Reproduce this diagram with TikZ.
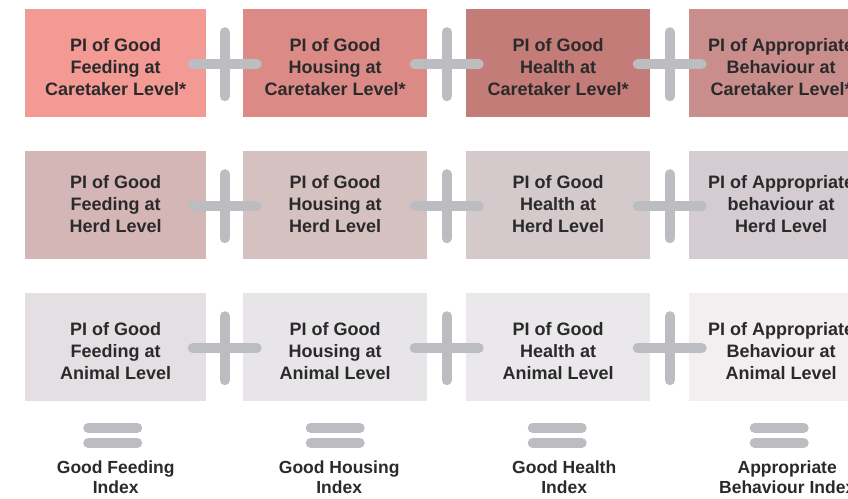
\documentclass[tikz,border=0pt]{standalone}
\usepackage{fontspec}
\setmainfont{Liberation Sans}
\usetikzlibrary{calc}

\definecolor{ink}{HTML}{2B2A2B}
\definecolor{opgray}{HTML}{BCBDC1}
% caretaker level
\definecolor{ca}{HTML}{F39A94}
\definecolor{cb}{HTML}{DC8A86}
\definecolor{cc}{HTML}{C47C78}
\definecolor{cd}{HTML}{C98E8C}
% herd level
\definecolor{ha}{HTML}{D4B6B6}
\definecolor{hb}{HTML}{D5C1BF}
\definecolor{hc}{HTML}{D4C9CB}
\definecolor{hd}{HTML}{D5CCD2}
% animal level
\definecolor{aa}{HTML}{E3DFE2}
\definecolor{ab}{HTML}{E8E5E9}
\definecolor{ac}{HTML}{EBE8EB}
\definecolor{ad}{HTML}{F3EFF0}

\begin{document}
\begin{tikzpicture}[x=1pt,y=-1pt,
  cell/.style={fill=#1, anchor=north west, minimum width=184pt,
    minimum height=108pt, inner sep=0pt},
  first/.style={minimum width=181pt},
  txt/.style={align=center, text=ink, inner sep=0pt,
    font=\bfseries\fontsize{18}{22}\selectfont},
  idx/.style={anchor=north, align=center, text=ink, inner sep=0pt,
    font=\bfseries\fontsize{17.5}{20}\selectfont},
  bar/.style={draw=opgray, line width=10pt, line cap=round}]

\useasboundingbox (0,0) rectangle (848,498);
\clip (0,0) rectangle (848,498);

% cells: name / fill / top-left / text offset / text
\foreach \n/\c/\x/\y/\dy/\t in {
  c1/ca/25/9/4/{PI of Good\\Feeding at\\Caretaker Level*},
  c2/cb/243/9/4/{PI of Good\\Housing at\\Caretaker Level*},
  c3/cc/466/9/4/{PI of Good\\Health at\\Caretaker Level*},
  c4/cd/689/9/4/{PI of Appropriate\\Behaviour at\\Caretaker Level*},
  h1/ha/25/151/-1/{PI of Good\\Feeding at\\Herd Level},
  h2/hb/243/151/-1/{PI of Good\\Housing at\\Herd Level},
  h3/hc/466/151/-1/{PI of Good\\Health at\\Herd Level},
  h4/hd/689/151/-1/{PI of Appropriate\\behaviour at\\Herd Level},
  a1/aa/25/293/4/{PI of Good\\Feeding at\\Animal Level},
  a2/ab/243/293/4/{PI of Good\\Housing at\\Animal Level},
  a3/ac/466/293/4/{PI of Good\\Health at\\Animal Level},
  a4/ad/689/293/4/{PI of Appropriate\\Behaviour at\\Animal Level}}{
  \ifnum\x=25
    \node[cell=\c, first] (\n) at (\x,\y) {};
  \else
    \node[cell=\c] (\n) at (\x,\y) {};
  \fi
  \node[txt] (t\n) at ($(\n.center)+(0,\dy)$) {\t};
}

% plus signs between neighbouring cells
\foreach \r in {c,h,a}{
  \foreach \i/\j in {1/2,2/3,3/4}{
    \coordinate (p\r\i) at ($(\r\i.east)!0.5!(\r\j.west)+(0,1)$);
    \draw[bar] ($(p\r\i)+(-32,0)$) -- ($(p\r\i)+(32,0)$);
    \draw[bar] ($(p\r\i)+(0,-32)$) -- ($(p\r\i)+(0,32)$);
  }
}

% resulting indices
\node[idx] (i1) at ($(a1.south)+(0,59)$) {Good Feeding\\Index};
\node[idx] (i2) at ($(a2.south)+(4,59)$)  {Good Housing\\Index};
\node[idx] (i3) at ($(a3.south)+(6,59)$)  {Good Health\\Index};
\node[idx] (i4) at ($(a4.south)+(6,59)$)  {Appropriate\\Behaviour Index};

% equals signs between each column and its index
\foreach \k/\dx in {1/-3,2/0,3/-1,4/-2}{
  \coordinate (e\k) at ($(a\k.south)+(\dx,34)$);
  \draw[bar] ($(e\k)+(-24.5,-7.5)$) -- ($(e\k)+(24.5,-7.5)$);
  \draw[bar] ($(e\k)+(-24.5,7.5)$) -- ($(e\k)+(24.5,7.5)$);
}
\end{tikzpicture}
\end{document}
